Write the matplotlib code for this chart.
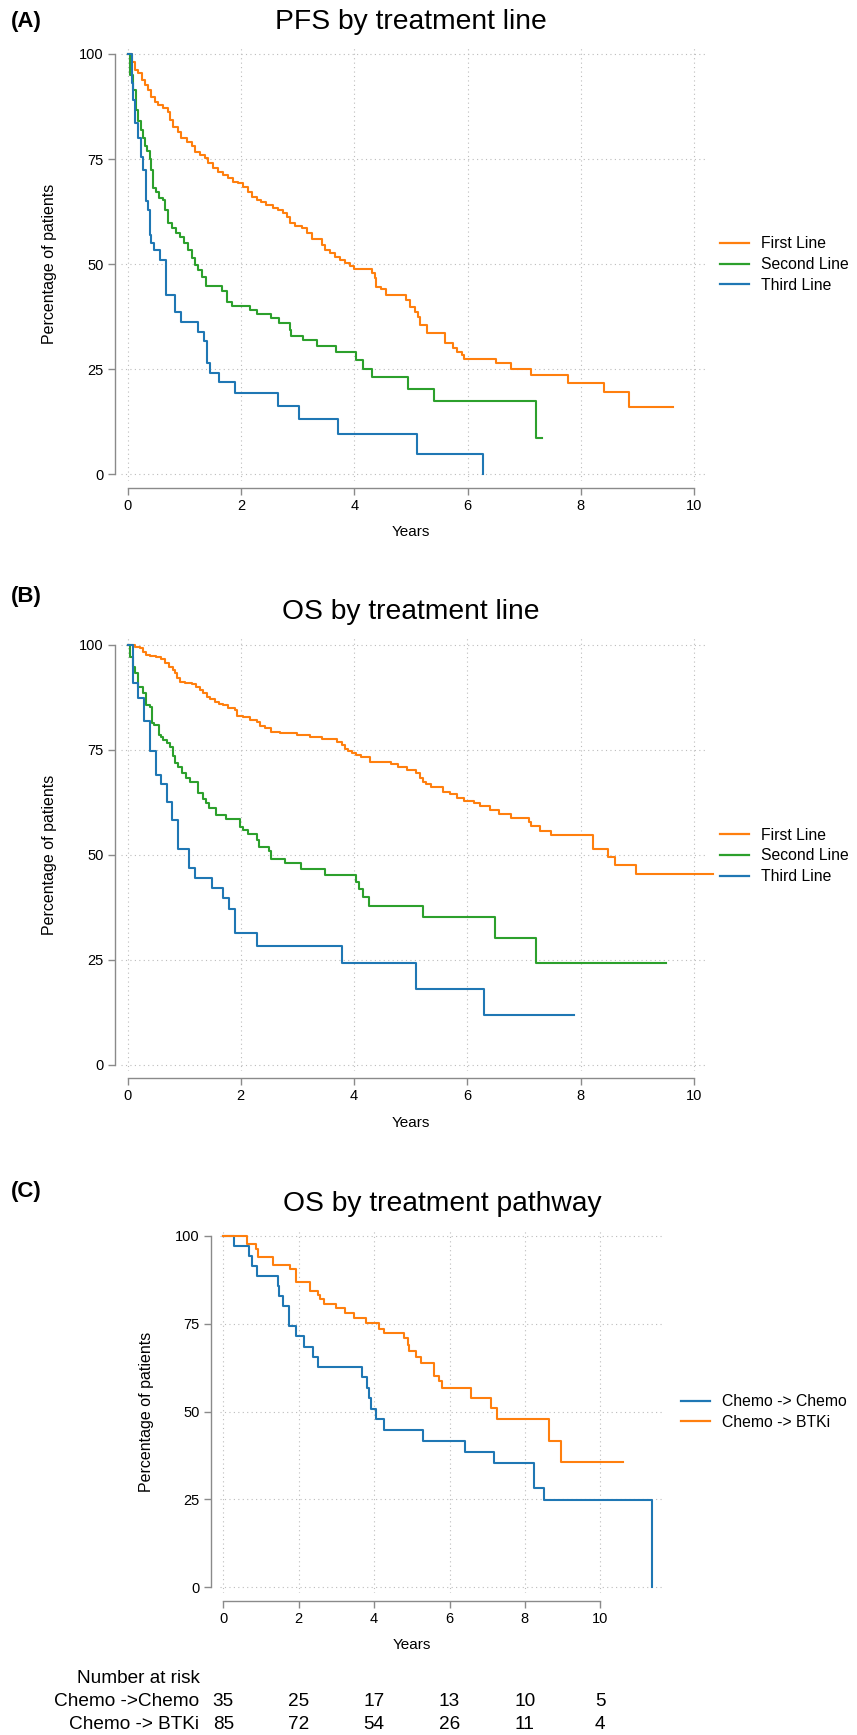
import matplotlib
matplotlib.use("Agg")
import matplotlib.pyplot as plt
from matplotlib.lines import Line2D

plt.rcParams['font.family'] = ['Liberation Sans', 'DejaVu Sans']

# Kolory serii
ORANGE = "#ff7f0e"
GREEN = "#2ca02c"
BLUE = "#1f77b4"

# (A) PFS - first line
pfs_first_t = [0, 0.07, 0.13, 0.19, 0.25, 0.31, 0.36, 0.42, 0.48, 0.54, 0.63, 0.72, 0.75, 0.81, 0.89,
               0.95, 1.04, 1.13, 1.19, 1.28, 1.36, 1.42, 1.51, 1.60, 1.69, 1.78, 1.86, 1.95, 2.04, 2.13,
               2.19, 2.28, 2.36, 2.45, 2.57, 2.66, 2.75, 2.81, 2.86, 2.95, 3.07, 3.16, 3.25, 3.44, 3.48,
               3.57, 3.66, 3.75, 3.84, 3.93, 4.00, 4.31, 4.36, 4.39, 4.48, 4.57, 4.92, 4.98, 5.07, 5.13,
               5.16, 5.28, 5.60, 5.75, 5.81, 5.90, 5.94, 6.51, 6.77, 7.12, 7.78, 8.41, 8.85, 9.63]
pfs_first_s = [100, 98, 96.3, 95.4, 93.8, 92.6, 91.4, 89.8, 88.6, 87.9, 87.1, 86.3, 84.3, 82.7, 81.5,
               79.9, 79.1, 78.0, 76.8, 76.0, 75.2, 74.0, 72.8, 72.0, 71.2, 70.4, 69.6, 69.2, 68.4, 67.2,
               66.0, 65.3, 64.9, 64.1, 63.3, 62.9, 62.1, 61.3, 59.7, 59.1, 58.5, 57.3, 56.1, 54.6, 53.4,
               52.6, 51.8, 51.0, 50.2, 49.6, 48.8, 47.8, 46.6, 44.6, 44.0, 42.7, 41.5, 39.9, 38.7, 37.5,
               35.5, 33.5, 31.2, 30.0, 29.2, 28.4, 27.4, 26.4, 25.0, 23.6, 21.8, 19.5, 16.1, 16.1]

# (A) PFS - second line
pfs_second_t = [0, 0.04, 0.10, 0.15, 0.19, 0.23, 0.28, 0.31, 0.34, 0.39, 0.42, 0.45, 0.50, 0.56, 0.63,
                0.66, 0.72, 0.78, 0.85, 0.92, 0.99, 1.07, 1.13, 1.19, 1.25, 1.31, 1.38, 1.66, 1.75, 1.84,
                2.16, 2.28, 2.54, 2.68, 2.86, 2.89, 3.10, 3.35, 3.68, 4.03, 4.16, 4.31, 4.95, 5.41, 7.21, 7.32]
pfs_second_s = [100, 95, 91.4, 86.7, 84, 82, 80, 78, 77, 75, 72.4, 68, 67.2, 65.7, 65.3,
                62.9, 59.7, 58.5, 57.3, 56.5, 55, 53.4, 51.4, 49.8, 48.6, 47, 44.9, 43.5, 40.9, 40.0,
                39.2, 38.2, 37.3, 36.1, 34.3, 32.9, 31.9, 30.6, 29.1, 27.2, 25.1, 23.1, 20.2, 17.4, 8.7, 8.7]

# (A) PFS - third line
pfs_third_t = [0, 0.07, 0.10, 0.13, 0.19, 0.23, 0.28, 0.32, 0.36, 0.39, 0.42, 0.46, 0.58, 0.68, 0.84,
               0.95, 1.25, 1.34, 1.41, 1.45, 1.61, 1.89, 2.65, 3.02, 3.71, 5.10, 6.27]
pfs_third_s = [100, 93, 89, 83.5, 80, 75.6, 72.4, 65, 63, 57, 55, 53.4, 51.1, 42.7, 38.5,
               36.3, 33.9, 31.6, 26.6, 24.2, 21.9, 19.4, 16.3, 13.1, 9.6, 4.8, 0]

# (B) OS - first line
os_first_t = [0, 0.13, 0.22, 0.28, 0.33, 0.40, 0.51, 0.60, 0.66, 0.74, 0.80, 0.84, 0.88, 0.93, 1.01,
              1.13, 1.21, 1.28, 1.34, 1.40, 1.46, 1.54, 1.62, 1.69, 1.78, 1.90, 1.93, 2.04, 2.16, 2.28,
              2.34, 2.43, 2.54, 2.69, 2.99, 3.22, 3.43, 3.69, 3.78, 3.84, 3.89, 3.96, 4.04, 4.13, 4.28,
              4.66, 4.78, 4.93, 5.10, 5.16, 5.22, 5.27, 5.35, 5.57, 5.70, 5.81, 5.94, 6.11, 6.23, 6.40,
              6.56, 6.77, 7.09, 7.13, 7.28, 7.47, 8.21, 8.48, 8.61, 8.97, 10.34]
os_first_s = [100, 99.5, 99.1, 98.3, 97.5, 97.3, 97.0, 96.5, 95.6, 94.8, 94.0, 93.2, 92.0, 91.2, 91.0,
              90.6, 90.0, 89.2, 88.4, 87.6, 87.0, 86.4, 86.0, 85.6, 84.9, 84.5, 83.0, 82.7, 82.1, 81.7,
              80.7, 80.1, 79.3, 78.9, 78.5, 78.1, 77.5, 76.9, 76.1, 75.3, 74.7, 74.3, 73.7, 73.2, 72.2,
              71.6, 71.0, 70.2, 69.4, 68.2, 67.4, 66.8, 66.2, 65.0, 64.4, 63.6, 62.8, 62.3, 61.6, 60.7,
              59.7, 58.8, 57.9, 56.9, 55.7, 54.7, 51.3, 49.6, 47.6, 45.4, 45.4]

# (B) OS - second line
os_second_t = [0, 0.04, 0.10, 0.13, 0.19, 0.28, 0.33, 0.39, 0.43, 0.46, 0.56, 0.60, 0.63, 0.69, 0.75,
               0.80, 0.84, 0.90, 0.97, 1.03, 1.10, 1.25, 1.33, 1.39, 1.44, 1.57, 1.74, 1.99, 2.04, 2.13,
               2.28, 2.33, 2.49, 2.54, 2.78, 3.07, 3.49, 4.03, 4.08, 4.15, 4.26, 5.21, 6.49, 7.21, 9.51]
os_second_s = [100, 97, 94.8, 93.2, 90, 88.4, 85.6, 85.2, 81.3, 80.9, 78.5, 78.1, 77.3, 76.5, 75.7,
               73.4, 71.8, 71.0, 69.4, 68.2, 67.4, 64.6, 63.4, 62.3, 61.1, 59.5, 58.5, 56.7, 55.9, 55.0,
               53.5, 51.9, 51.0, 48.9, 48.0, 46.6, 45.2, 43.6, 41.8, 39.9, 37.9, 35.3, 30.3, 24.2, 24.2]

# (B) OS - third line
os_third_t = [0, 0.09, 0.19, 0.29, 0.40, 0.50, 0.59, 0.69, 0.79, 0.90, 1.09, 1.19, 1.49, 1.69, 1.79,
              1.90, 2.29, 3.79, 5.09, 6.29, 7.89]
os_third_s = [100, 91, 87.4, 81.9, 74.8, 69, 66.9, 62.6, 58.2, 51.5, 46.9, 44.6, 42.2, 39.8, 37.0,
              31.3, 28.2, 24.2, 18.0, 11.9, 11.9]

# (C) OS - Chemo -> Chemo
path_chemo_t = [0, 0.29, 0.68, 0.75, 0.90, 1.44, 1.48, 1.59, 1.73, 1.75, 1.93, 2.15, 2.39, 2.50, 3.69,
                3.81, 3.86, 3.91, 4.04, 4.27, 5.31, 6.42, 7.19, 8.23, 8.51, 11.36]
path_chemo_s = [100, 97, 94.2, 91.3, 88.5, 85.7, 82.8, 80, 77.2, 74.3, 71.5, 68.4, 65.6, 62.7, 59.7,
                56.6, 53.7, 50.7, 47.9, 44.8, 41.7, 38.5, 35.4, 28.2, 24.7, 0]

# (C) OS - Chemo -> BTKi
path_btki_t = [0, 0.64, 0.88, 0.93, 1.33, 1.77, 1.93, 2.30, 2.52, 2.57, 2.67, 2.99, 3.23, 3.47, 3.79,
               4.14, 4.27, 4.78, 4.90, 4.93, 5.12, 5.24, 5.58, 5.71, 5.81, 6.57, 7.11, 7.27, 8.63, 8.97, 10.60]
path_btki_s = [100, 97.6, 96.2, 94.0, 91.7, 90.5, 86.9, 84.4, 83.1, 81.9, 80.7, 79.3, 77.9, 76.7, 75.3,
               73.6, 72.2, 70.8, 68.9, 67.2, 65.6, 63.9, 60.2, 58.7, 56.6, 53.9, 50.9, 47.8, 41.7, 35.7, 35.7]

# Tabela "Number at risk"
risk_times = [0, 2, 4, 6, 8, 10]
risk_labels = ["Chemo ->Chemo", "Chemo -> BTKi"]
risk_chemo = [35, 25, 17, 13, 10, 5]
risk_btki = [85, 72, 54, 26, 11, 4]

W, H = 857, 1735
YTICKS = [0, 25, 50, 75, 100]
XTICKS = [0, 2, 4, 6, 8, 10]
SPINE = "#8a8a8a"


def px(x, y):
    # piksele (od lewego górnego rogu) -> ułamki figury
    return x / W, 1 - y / H


def make_axes(fig, x0, sx, y100, y0, xlim, spine_x, spine_y, ylim=(-1.5, 101.5)):
    sy = (y0 - y100) / 100.0
    left = x0 + xlim[0] * sx
    right = x0 + xlim[1] * sx
    top = y0 - ylim[1] * sy
    bottom = y0 - ylim[0] * sy
    ax = fig.add_axes([left / W, 1 - bottom / H, (right - left) / W, (bottom - top) / H])
    ax.set_xlim(*xlim)
    ax.set_ylim(*ylim)
    ax.set_xticks(XTICKS)
    ax.set_yticks(YTICKS)
    ax.grid(True, linestyle=(0, (1, 3)), color="#bcbcbc", linewidth=0.8)
    ax.set_axisbelow(True)
    for side in ["top", "right"]:
        ax.spines[side].set_visible(False)
    ax.spines["left"].set_position(("outward", (left - spine_x) * 0.72))
    ax.spines["bottom"].set_position(("outward", (spine_y - bottom) * 0.72))
    ax.spines["left"].set_bounds(0, 100)
    ax.spines["bottom"].set_bounds(0, 10)
    for side in ["left", "bottom"]:
        ax.spines[side].set_color(SPINE)
        ax.spines[side].set_linewidth(1.0)
    ax.tick_params(axis="both", colors=SPINE, labelcolor="black", labelsize=10.5,
                   length=5, width=1.0, pad=3)
    # środek osi w pikselach (do tytułu) i środek zakresu 0-10 (do etykiety)
    return ax, (left + right) / 2.0, x0 + 5 * sx


def decorate(fig, ax, letter, title, letter_y, title_x, title_y, years_x, years_y, ylab_x, ylab_y):
    fig.text(*px(11, letter_y), letter, fontsize=16, fontweight="bold", ha="left", va="center")
    fig.text(*px(title_x, title_y), title, fontsize=20.3, ha="center", va="center")
    fig.text(*px(years_x, years_y), "Years", fontsize=11, ha="center", va="center")
    fig.text(*px(ylab_x, ylab_y), "Percentage of patients", fontsize=11.5, rotation=90,
             ha="center", va="center")


def add_legend(ax, labels, colors, x_px, y_px):
    handles = [Line2D([], [], color=c, linewidth=1.6) for c in colors]
    ax.legend(handles, labels, loc="center left", bbox_to_anchor=px(x_px, y_px),
              bbox_transform=ax.figure.transFigure, frameon=False, fontsize=11.3,
              handlelength=1.85, handletextpad=0.75, labelspacing=0.38,
              borderpad=0, borderaxespad=0)


def km(ax, t, s, color):
    ax.step(t, s, where="post", color=color, linewidth=1.5, clip_on=False, zorder=3)


def main():
    fig = plt.figure(figsize=(W / 100, H / 100), dpi=100)

    # (A) PFS
    ax, cx, mx = make_axes(fig, 127.6, 56.65, 54.0, 474.3, (-0.12, 10.2), 115, 488)
    km(ax, pfs_first_t, pfs_first_s, ORANGE)
    km(ax, pfs_second_t, pfs_second_s, GREEN)
    km(ax, pfs_third_t, pfs_third_s, BLUE)
    decorate(fig, ax, "(A)", "PFS by treatment line", 21, mx, 22, mx, 532, 50, 264)
    add_legend(ax, ["First Line", "Second Line", "Third Line"], [ORANGE, GREEN, BLUE], 720, 264.5)

    # (B) OS
    ax, cx, mx = make_axes(fig, 127.5, 56.65, 644.7, 1065.0, (-0.12, 10.2), 115, 1078)
    km(ax, os_first_t, os_first_s, ORANGE)
    km(ax, os_second_t, os_second_s, GREEN)
    km(ax, os_third_t, os_third_s, BLUE)
    decorate(fig, ax, "(B)", "OS by treatment line", 596, mx, 612, mx, 1123, 50, 855)
    add_legend(ax, ["First Line", "Second Line", "Third Line"], [ORANGE, GREEN, BLUE], 720, 856)

    # (C) OS wg ścieżki leczenia
    ax, cx, mx = make_axes(fig, 223.3, 37.7, 1235.7, 1587.3, (-0.1, 11.7), 211, 1600.5)
    km(ax, path_chemo_t, path_chemo_s, BLUE)
    km(ax, path_btki_t, path_btki_s, ORANGE)
    decorate(fig, ax, "(C)", "OS by treatment pathway", 1191, cx, 1204, mx, 1645, 146, 1411.5)
    add_legend(ax, ["Chemo -> Chemo", "Chemo -> BTKi"], [BLUE, ORANGE], 681, 1412)

    # Number at risk pod panelem C
    fig.text(*px(200, 1678), "Number at risk", fontsize=13.7, ha="right", va="center")
    for row_y, label, counts in [(1701, risk_labels[0], risk_chemo), (1724, risk_labels[1], risk_btki)]:
        fig.text(*px(199, row_y), label, fontsize=13.7, ha="right", va="center")
        for t, n in zip(risk_times, counts):
            fig.text(*px(223.3 + 37.7 * t, row_y), str(n), fontsize=13.7, ha="center", va="center")

    fig.savefig("out.png", dpi=100)
    plt.close(fig)


if __name__ == "__main__":
    main()
